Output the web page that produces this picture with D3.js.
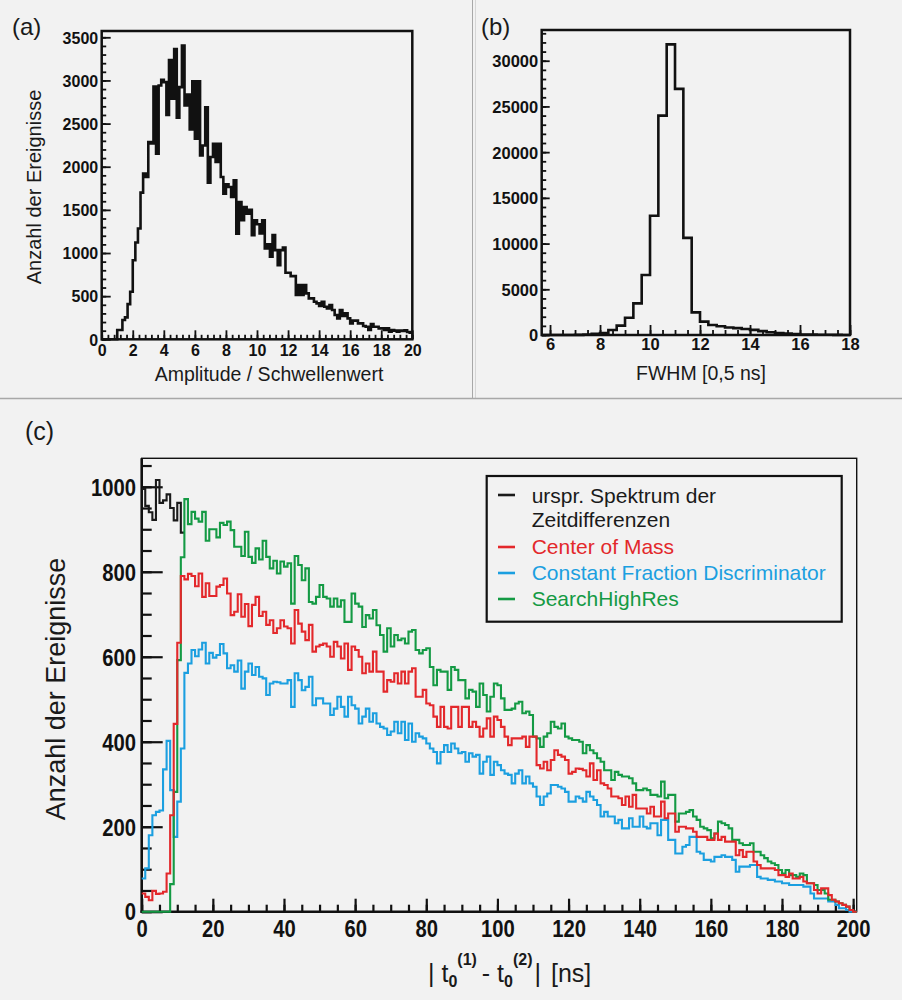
<!DOCTYPE html>
<html>
<head>
<meta charset="utf-8">
<script src="https://cdn.jsdelivr.net/npm/d3@7"></script>
<style>
  html, body { margin: 0; padding: 0; background: #f2f2f2; }
  svg { display: block; }
</style>
</head>
<body>
<svg id="chart" width="902" height="1000"></svg>
<script>
const FONT = '"Liberation Sans", Arial, Helvetica, sans-serif';

// ---- panel (a): amplitude / threshold, bins of 1/6 from 0 to 20
const ampCounts = [
  0, 0, 0, 0, 0, 0,
  108, 108, 223, 254, 408, 551,
  917, 1122, 1284, 1700, 1920, 1881,
  2285, 2270, 2929, 2150, 2941, 3006,
  2980, 2601, 3237, 2787, 3365, 2567,
  2922, 3403, 2710, 2837, 2432, 2991,
  2324, 2991, 2131, 2246, 2690, 1815,
  2113, 2266, 2054, 2266, 1881, 1688,
  1796, 1765, 1649, 1842, 1225, 1592,
  1380, 1534, 1457, 1500, 1207, 1380,
  1334, 1226, 1380, 1052, 1100, 956,
  1207, 1033, 860, 1033, 1064, 771,
  771, 732, 732, 513, 628, 513,
  628, 532, 474, 474, 436, 416,
  386, 436, 378, 358, 397, 339,
  281, 243, 339, 270, 300, 243,
  185, 216, 216, 185, 185, 154,
  146, 108, 177, 146, 146, 127,
  127, 108, 127, 89, 108, 100,
  89, 100, 96, 104, 85, 77
];
const ampBinStart = 0, ampBinWidth = 1 / 6;
const ampYTicks = [0, 500, 1000, 1500, 2000, 2500, 3000, 3500];
const ampXTicks = [0, 2, 4, 6, 8, 10, 12, 14, 16, 18, 20];

// ---- panel (b): FWHM, bins of 1/3 from 5.667 to 18
const fwhmCounts = [
  0, 0, 0, 0, 10, 60, 120, 200, 550, 1020, 1890, 3460, 6560,
  13050, 23990, 31790, 26920, 10620, 2480, 1460, 1090, 950, 820,
  750, 650, 560, 420, 300, 220, 170, 110, 60, 40, 30, 20, 10, 5
];
const fwhmBinStart = 17 / 3, fwhmBinWidth = 1 / 3;
const fwhmYTicks = [0, 5000, 10000, 15000, 20000, 25000, 30000];
const fwhmXTicks = [6, 8, 10, 12, 14, 16, 18];

// ---- panel (c): |t0(1) - t0(2)| spectra, 1 ns bins
const origSpectrum = [995, 955, 940, 922, 1016, 962, 968, 982, 950, 921, 962, 892];
const centerOfMass = [
  43, 35, 27, 49, 42, 43, 47, 90, 227, 442, 633, 790,
  782, 795, 790, 766, 796, 741, 773, 743, 743, 765,
  769, 784, 749, 698, 706, 747, 694, 724, 672, 722,
  741, 696, 706, 675, 686, 656, 667,
  686, 671, 667, 631, 710, 678, 659, 639, 675, 612, 624, 628,
  631, 624, 600, 635, 624, 596, 631, 569, 624, 616, 600, 561, 584, 565, 612, 565, 565,
  518, 545, 541, 561, 537, 565, 537, 565, 573, 506, 506, 522, 490, 486, 459, 435, 482,
  435, 431, 482, 482, 435, 482, 482, 435, 447, 435, 412, 431, 455, 412, 459, 451, 435,
  412, 392, 408, 408, 408, 412, 388, 412, 412, 345, 337, 353, 333, 357, 380, 369, 365,
  357, 325, 329, 337,
  336, 333, 318, 349, 310, 333, 302, 298, 290, 271,
  271, 267, 251, 271, 247, 275, 243, 243, 243, 231,
  247, 224, 224, 259, 220, 231, 231, 188, 200, 200,
  196, 196, 188, 176, 176, 176, 169, 169, 184, 169,
  176, 165, 165, 165, 133, 145, 129, 141, 141, 118,
  110, 102, 102, 102, 102, 98, 86, 86, 82, 90,
  78, 78, 82, 71, 67, 67, 51, 43, 55, 55,
  39, 28, 24, 20, 16, 12, 4, 0
];
const constFraction = [
  78, 102, 180, 227, 235, 238, 335, 402, 286, 176, 259, 384,
  562, 584, 616, 601, 617, 633, 584, 609, 598, 604, 630, 608,
  573, 580, 565, 591, 525, 565, 584, 557, 576, 553, 549, 510,
  537, 541, 540,
  537, 537, 545, 482, 561, 545, 521, 529, 553, 486, 502, 502,
  490, 490, 463, 478, 506, 482, 459, 506, 486, 478, 443, 459, 478, 447, 467, 443, 435,
  431, 416, 424, 447, 420, 447, 404, 443, 400, 420, 412, 408, 396, 384, 376, 349, 376,
  392, 376, 396, 384, 373, 376, 353, 373, 365, 369, 325, 353, 365, 322, 353, 345, 333,
  325, 322, 302, 325, 333, 302, 318, 302, 294, 271, 251, 271, 278, 298, 298, 294, 290,
  282, 259, 259, 271,
  267, 259, 282, 271, 263, 251, 224, 235, 224, 224,
  208, 216, 196, 196, 220, 200, 200, 224, 200, 196,
  208, 208, 180, 216, 216, 169, 169, 137, 137, 153,
  157, 176, 176, 141, 137, 122, 122, 118, 129, 129,
  133, 129, 129, 122, 94, 106, 106, 106, 110, 110,
  82, 78, 78, 75, 75, 71, 71, 67, 67, 63,
  63, 63, 63, 59, 59, 43, 31, 31, 31, 31,
  24, 24, 16, 8, 8, 4, 0, 0
];
const searchHighRes = [
  0, 0, 0, 0, 0, 0, 0, 0, 65, 282, 592, 834,
  971, 912, 941, 925, 918, 941, 873, 900, 900, 881,
  915, 910, 918, 898, 859, 859, 837, 894, 835, 821,
  855, 829, 873, 835, 808, 826, 796,
  824, 812, 820, 725, 837, 816, 780,
  808, 729, 725, 741, 769, 741, 737, 718, 737, 718,
  733, 682, 682, 749, 725, 718, 670, 698, 690, 710,
  674, 651, 612, 667, 624, 651, 639, 643, 631, 659,
  663, 616, 608, 616, 620, 576, 533, 569, 565, 565,
  522, 576, 569, 545, 545, 502, 522, 518, 482, 537,
  510, 471, 506, 537, 533, 502, 475, 475, 478, 490,
  494, 467, 471, 463, 412, 408, 388, 412, 420, 447,
  435, 431, 443, 412, 408, 404, 404,
  400, 373, 392, 380, 373, 361, 353, 333, 333, 310,
  329, 322, 318, 318, 314, 302, 286, 286, 290, 286,
  275, 275, 271, 306, 267, 275, 275, 212, 231, 231,
  235, 239, 224, 216, 200, 196, 192, 173, 184, 212,
  208, 204, 196, 169, 169, 161, 157, 157, 161, 141,
  141, 133, 126, 118, 114, 110, 98, 90, 98, 86,
  86, 82, 90, 86, 67, 67, 63, 51, 51, 43,
  28, 28, 24, 20, 16, 12, 4, 0
];
const tdBinStart = 0, tdBinWidth = 1;
const tdYTicks = [0, 200, 400, 600, 800, 1000];
const tdXTicks = [0, 20, 40, 60, 80, 100, 120, 140, 160, 180, 200];

const seriesNames = ["urspr. Spektrum der", "Center of Mass", "Constant Fraction Discriminator", "SearchHighRes"];
const seriesColors = ["#1a1a1a", "#e3282b", "#1b9fe0", "#149a44"];

const svg = d3.select("#chart");
svg.append("rect").attr("width", 902).attr("height", 1000).attr("fill", "#f2f2f2");

// panel separators
svg.append("line").attr("x1", 472.5).attr("x2", 472.5).attr("y1", 0).attr("y2", 398)
  .attr("stroke", "#a8a8a8").attr("stroke-width", 1);
svg.append("line").attr("x1", 475.5).attr("x2", 475.5).attr("y1", 0).attr("y2", 398)
  .attr("stroke", "#d6d6d6").attr("stroke-width", 1);
svg.append("line").attr("x1", 0).attr("x2", 902).attr("y1", 398.5).attr("y2", 398.5)
  .attr("stroke", "#a8a8a8").attr("stroke-width", 1.5);

// step outline of a histogram through the scales
function histPath(x, y, start, width, values) {
  const pts = values.map((v, i) => [start + i * width, v]);
  pts.push([start + values.length * width, values[values.length - 1]]);
  return d3.line().x(d => x(d[0])).y(d => y(d[1])).curve(d3.curveStepAfter)(pts);
}

function drawAxes(x, y, cfg) {
  const left = x.range()[0], bottom = y.range()[0];
  const g = svg.append("g");
  g.append("g").attr("transform", `translate(${left},0)`)
    .call(d3.axisLeft(y).tickValues(cfg.yMinor).tickSize(-cfg.yMinorLen).tickFormat(""));
  const yMaj = g.append("g").attr("transform", `translate(${left},0)`)
    .call(d3.axisLeft(y).tickValues(cfg.yMajor).tickSize(-cfg.yMajorLen).tickPadding(cfg.yPad).tickFormat(d => d));
  g.append("g").attr("transform", `translate(0,${bottom})`)
    .call(d3.axisBottom(x).tickValues(cfg.xMinor).tickSize(-cfg.xMinorLen).tickFormat(""));
  g.append("g").attr("transform", `translate(0,${bottom})`)
    .call(d3.axisBottom(x).tickValues(cfg.xMajor).tickSize(-cfg.xMajorLen).tickPadding(cfg.xPad).tickFormat(d => d));
  g.selectAll(".domain").remove();
  g.selectAll(".tick line").attr("stroke", "#111").attr("stroke-width", cfg.tickW);
  g.selectAll(".tick text")
    .attr("fill", "#111")
    .attr("font-family", FONT)
    .attr("font-size", cfg.fs)
    .attr("font-weight", "bold");
  if (cfg.squeeze) g.selectAll(".tick text").attr("transform", `scale(${cfg.squeeze},1)`);
  yMaj.selectAll(".tick text").attr("dy", "0.36em");
  return g;
}

function label(txt, x, y, size, opts = {}) {
  const t = svg.append("text").text(txt)
    .attr("x", x).attr("y", y)
    .attr("font-family", FONT).attr("font-size", size)
    .attr("fill", opts.fill || "#1a1a1a")
    .attr("text-anchor", opts.anchor || "start");
  if (opts.weight) t.attr("font-weight", opts.weight);
  if (opts.rotate) t.attr("transform", `rotate(-90,${x},${y})`);
  return t;
}

// ================= panel (a)
{
  const x = d3.scaleLinear().domain([0, 20]).range([101.7, 412.3]);
  const y = d3.scaleLinear().domain([0, 3573]).range([339.3, 31]);
  svg.append("rect").attr("x", 101.7).attr("y", 31).attr("width", 310.6).attr("height", 308.3)
    .attr("fill", "none").attr("stroke", "#111").attr("stroke-width", 2.5);
  drawAxes(x, y, {
    yMajor: ampYTicks, yMinor: d3.range(0, 3501, 100), yMajorLen: 9, yMinorLen: 4.5, yPad: 3.5,
    xMajor: ampXTicks, xMinor: d3.range(0, 20.01, 0.4), xMajorLen: 9, xMinorLen: 4.5, xPad: 5,
    tickW: 1.8, fs: 16
  });
  svg.append("path").attr("d", histPath(x, y, ampBinStart, ampBinWidth, ampCounts))
    .attr("fill", "none").attr("stroke", "#111").attr("stroke-width", 2.6);
  label("(a)", 12, 35, 24);
  label("Anzahl der Ereignisse", 41, 187, 20, { anchor: "middle", rotate: true });
  label("Amplitude / Schwellenwert", 269, 381, 19.5, { anchor: "middle" });
}

// ================= panel (b)
{
  const x = d3.scaleLinear().domain([fwhmBinStart, 18]).range([541.7, 850]);
  const y = d3.scaleLinear().domain([0, 33360]).range([335, 30]);
  svg.append("rect").attr("x", 541.7).attr("y", 30).attr("width", 308.3).attr("height", 305)
    .attr("fill", "none").attr("stroke", "#111").attr("stroke-width", 2.5);
  drawAxes(x, y, {
    yMajor: fwhmYTicks, yMinor: d3.range(0, 33001, 1000), yMajorLen: 8, yMinorLen: 4.5, yPad: 3.5,
    xMajor: fwhmXTicks, xMinor: d3.range(6, 18.01, 0.5), xMajorLen: 10, xMinorLen: 5, xPad: 3.5,
    tickW: 1.8, fs: 16.5
  });
  svg.append("path").attr("d", histPath(x, y, fwhmBinStart, fwhmBinWidth, fwhmCounts))
    .attr("fill", "none").attr("stroke", "#111").attr("stroke-width", 2.6);
  label("(b)", 481, 35, 24);
  label("FWHM [0,5 ns]", 701, 380, 19.5, { anchor: "middle" });
}

// ================= panel (c)
{
  const x = d3.scaleLinear().domain([0, 201]).range([141.7, 856.7]);
  const y = d3.scaleLinear().domain([0, 1067]).range([911.7, 458.3]);
  svg.append("rect").attr("x", 141.7).attr("y", 458.3).attr("width", 715).attr("height", 453.4)
    .attr("fill", "none").attr("stroke", "#111").attr("stroke-width", 1.4);
  svg.append("line").attr("x1", 141.7).attr("x2", 141.7).attr("y1", 458.3).attr("y2", 912.7)
    .attr("stroke", "#111").attr("stroke-width", 2.6);
  svg.append("line").attr("x1", 140.5).attr("x2", 856.7).attr("y1", 911.7).attr("y2", 911.7)
    .attr("stroke", "#111").attr("stroke-width", 2.6);
  drawAxes(x, y, {
    yMajor: tdYTicks, yMinor: d3.range(0, 1051, 50), yMajorLen: 21, yMinorLen: 10, yPad: 6.5,
    xMajor: tdXTicks, xMinor: d3.range(0, 201, 5), xMajorLen: 13, xMinorLen: 7, xPad: 9,
    tickW: 2.2, fs: 23, squeeze: 0.88
  });

  const series = [
    { vals: origSpectrum, color: seriesColors[0] },
    { vals: constFraction, color: seriesColors[2] },
    { vals: searchHighRes, color: seriesColors[3] },
    { vals: centerOfMass, color: seriesColors[1] }
  ];
  series.forEach(s => {
    svg.append("path").attr("d", histPath(x, y, tdBinStart, tdBinWidth, s.vals))
      .attr("fill", "none").attr("stroke", s.color).attr("stroke-width", 2.1)
      .attr("stroke-linejoin", "miter");
  });

  // legend
  const lg = svg.append("g");
  lg.append("rect").attr("x", 486.7).attr("y", 476).attr("width", 355).attr("height", 145.7)
    .attr("fill", "#f2f2f2").attr("stroke", "#111").attr("stroke-width", 2.2);
  const rows = [
    { lines: [seriesNames[0], "Zeitdifferenzen"], color: seriesColors[0], mark: 495, base: 503 },
    { lines: [seriesNames[1]], color: seriesColors[1], mark: 547, base: 554 },
    { lines: [seriesNames[2]], color: seriesColors[2], mark: 573, base: 580 },
    { lines: [seriesNames[3]], color: seriesColors[3], mark: 599, base: 606 }
  ];
  rows.forEach(r => {
    lg.append("line").attr("x1", 498).attr("x2", 515).attr("y1", r.mark).attr("y2", r.mark)
      .attr("stroke", r.color).attr("stroke-width", 2.6);
    r.lines.forEach((t, i) => {
      lg.append("text").text(t).attr("x", 531.7).attr("y", r.base + i * 24)
        .attr("font-family", FONT).attr("font-size", 21).attr("fill", r.color);
    });
  });

  label("(c)", 25, 440, 25);
  label("Anzahl der Ereignisse", 65, 689, 27, { anchor: "middle", rotate: true });

  // x-axis title: | t0^(1) - t0^(2)| [ns]
  const xt = svg.append("text").attr("x", 428).attr("y", 982)
    .attr("font-family", FONT).attr("font-size", 25).attr("fill", "#1a1a1a");
  xt.append("tspan").text("| t");
  xt.append("tspan").text("0").attr("font-size", 16).attr("font-weight", "bold").attr("dy", 5);
  xt.append("tspan").text("(1)").attr("font-size", 16).attr("font-weight", "bold").attr("dy", -22);
  xt.append("tspan").text(" - t").attr("dy", 17).attr("dx", -2);
  xt.append("tspan").text("0").attr("font-size", 16).attr("font-weight", "bold").attr("dy", 5);
  xt.append("tspan").text("(2)").attr("font-size", 16).attr("font-weight", "bold").attr("dy", -22);
  xt.append("tspan").text("|").attr("dy", 17).attr("dx", 2);
  xt.append("tspan").text(" [ns]").attr("dx", 3);
}
</script>
</body>
</html>
